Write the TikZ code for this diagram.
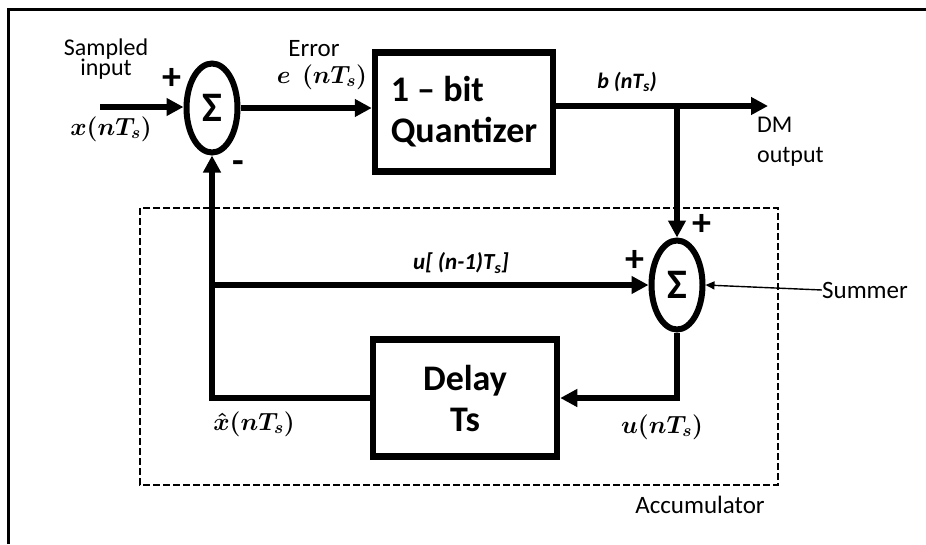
\documentclass[tikz,border=0pt]{standalone}
\usepackage{fontspec}
\setmainfont{Carlito}
\usetikzlibrary{arrows.meta,shapes.geometric}
\begin{document}
\begin{tikzpicture}[x=1pt,y=-1pt,
  sumnode/.style={ellipse,draw,line width=6pt,minimum width=51pt,minimum height=89pt,inner sep=0pt,font=\bfseries\fontsize{42}{42}\selectfont},
  blockbox/.style={rectangle,draw,line width=6.5pt,inner sep=0pt,font=\bfseries\fontsize{36}{41}\selectfont},
  conn/.style={line width=5.5pt,-{Triangle[length=17pt,width=17pt]}},
  thinarrow/.style={line width=1.4pt,-{Triangle[length=9pt,width=8pt]}},
  lbl/.style={font=\fontsize{25}{21}\selectfont\boldmath,inner sep=0pt},
  sign/.style={font=\bfseries\fontsize{38}{38}\selectfont,inner sep=0pt},
]
\useasboundingbox (0,0) rectangle (926,544);
% outer frame
\draw[line width=3pt] (8,544) -- (8,9) -- (926,9);
% accumulator dashed box
\draw[line width=2pt,dash pattern=on 7pt off 3pt] (140,208) rectangle (778,485);

% blocks
\node[sumnode] (sum1) at (212,108) {Σ};
\node[sumnode] (sum2) at (677,285) {Σ};
\node[blockbox,minimum width=178pt,minimum height=119pt,align=left] (quant) at (464,112) {1 – bit\\Quantizer};
\node[blockbox,minimum width=184pt,minimum height=117pt,align=center] (delay) at (465,398) {Delay\\Ts};

% coordinates
\coordinate (in) at (100,107);
\coordinate (out) at (768,106);
\coordinate (br) at (677,106);
\coordinate (fb) at (212,398);
\coordinate (tap) at (212,285);

% connectors
\draw[conn] (in) -- (in -| sum1.west);
\draw[conn] (sum1.east) -- (sum1.east -| quant.west);
\draw[conn] (quant.east |- out) -- (out);
\draw[conn] (br) -- (sum2.north);
\draw[conn] (delay.west) -- (fb) -- (sum1.south);
\draw[conn] (tap) -- (sum2.west);
\draw[conn] (sum2.south) |- (delay.east);

% labels
\node[lbl,align=center,font=\fontsize{24}{20.5}\selectfont] (lsamp) at (106,59) {Sampled\\input};
\node[sign] (p1) at (172,79) {+};
\node[lbl] (lx) at (111,129) {$x(nT_s)$};
\node[sign] (m1) at (238,167) {-};
\node[lbl] (lerr) at (314,49) {Error};
\node[lbl] (le) at (322,77) {$e\ \ (nT_s)$};
\node[lbl,font=\bfseries\itshape\fontsize{22}{22}\selectfont] (lb) at (627,82) {b (nT\textsubscript{s})};
\node[lbl,align=left,anchor=north west,font=\fontsize{24}{30}\selectfont] (ldm) at (757,117) {DM\\output};
\node[sign] (p2) at (702,225) {+};
\node[sign] (p3) at (635,261) {+};
\node[lbl,font=\bfseries\itshape\fontsize{23}{23}\selectfont] (lu1) at (461,263) {u[ (n-1)T\textsubscript{s}]};
\node[lbl] (summer) at (865,290) {Summer};
\draw[thinarrow] (summer.west) -- (sum2.east);
\node[lbl] (lxh) at (254,424) {$\hat{x}(nT_s)$};
\node[lbl] (lu) at (662,427) {$u(nT_s)$};
\node[lbl] (lacc) at (700,505) {Accumulator};
\end{tikzpicture}
\end{document}
